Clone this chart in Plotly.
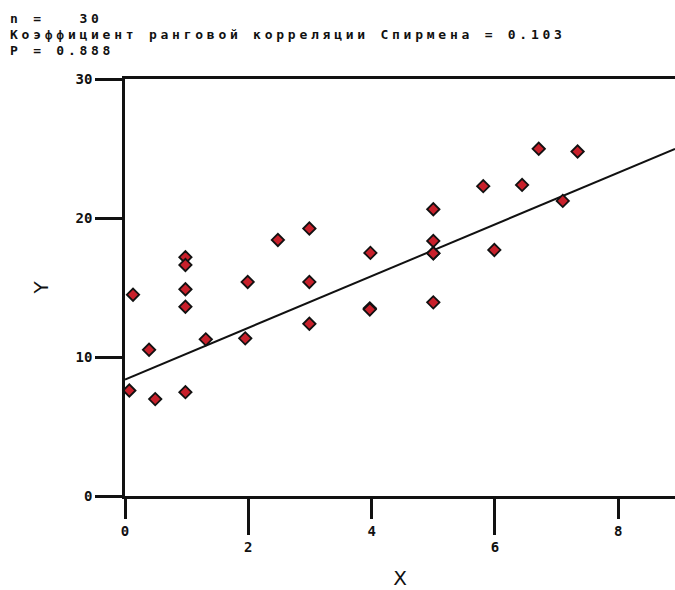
import numpy as np
import plotly.graph_objects as go

# Observations
x_vals = [0.07, 0.13, 0.39, 0.49, 0.98, 0.98, 0.98, 0.98, 0.98, 1.31,
          1.95, 1.99, 2.48, 2.99, 2.99, 2.99, 3.98, 3.97, 3.97, 5.0,
          5.0, 5.0, 5.0, 5.0, 5.81, 5.99, 6.44, 6.71, 7.10, 7.34]
y_vals = [7.59, 14.48, 10.52, 6.97, 17.18, 16.62, 14.87, 13.62, 7.47, 11.27,
          11.34, 15.40, 18.42, 19.24, 15.40, 12.39, 17.49, 13.50, 13.42, 20.63,
          18.35, 17.46, 17.46, 13.93, 22.29, 17.70, 22.38, 24.98, 21.23, 24.78]

# Fitted line
intercept = 8.38
slope = 1.86

# Header statistics
n_obs = 30
spearman_r = 0.103
p_value = 0.888

# Axis setup
x_range = [0, 8.92]
y_range = [0, 30]
x_ticks_short = [0, 4, 8]
x_ticks_long = [2, 6]
y_ticks = [0, 10, 20, 30]

mono = "DejaVu Sans Mono"
ink = "#111111"

line_x = np.array(x_range)
line_y = intercept + slope * line_x

fig = go.Figure()

fig.add_trace(go.Scatter(
    x=line_x, y=line_y, mode="lines",
    line=dict(color="#111111", width=2),
    hoverinfo="skip", showlegend=False,
))

fig.add_trace(go.Scatter(
    x=x_vals, y=y_vals, mode="markers",
    marker=dict(symbol="diamond", size=9.5, color="#c8202b",
                line=dict(color="#111111", width=1.8)),
    showlegend=False, cliponaxis=False,
))

# Second x axis carries the longer, lower ticks
fig.add_trace(go.Scatter(x=[None], y=[None], xaxis="x2", showlegend=False))

tick_font = dict(family=mono, size=14, color=ink, weight="bold")

fig.update_layout(
    width=675, height=590,
    margin=dict(l=125, r=0, t=79, b=94),
    paper_bgcolor="white", plot_bgcolor="white",
    xaxis=dict(
        range=x_range, tickvals=x_ticks_short, ticktext=[str(v) for v in x_ticks_short],
        ticks="outside", ticklen=20, tickwidth=2.5, tickcolor=ink,
        showline=True, linewidth=2.5, linecolor=ink, mirror=True,
        showgrid=False, zeroline=False, tickfont=tick_font,
        title=dict(text="X", font=dict(family="DejaVu Sans", size=20, color=ink), standoff=38),
    ),
    xaxis2=dict(
        range=x_range, overlaying="x", side="bottom", anchor="y",
        tickvals=x_ticks_long, ticktext=[str(v) for v in x_ticks_long],
        ticks="outside", ticklen=38, tickwidth=2.5, tickcolor=ink,
        showline=False, showgrid=False, zeroline=False, tickfont=tick_font,
    ),
    yaxis=dict(
        range=y_range, tickvals=y_ticks, ticktext=[str(v) for v in y_ticks],
        ticks="outside", ticklen=27, tickwidth=2.5, tickcolor=ink,
        showline=True, linewidth=2.5, linecolor=ink, mirror=False,
        showgrid=False, zeroline=False, tickfont=tick_font,
        title=dict(text="Y", font=dict(family="DejaVu Sans", size=20, color=ink), standoff=22),
    ),
)

header = [
    f"n =   {n_obs}",
    f"Коэффициент ранговой корреляции Спирмена = {spearman_r:.3f}",
    f"P = {p_value:.3f}",
]
header_rows_px = [18, 34, 50]
plot_top, plot_h, plot_left, plot_w = 79, 590 - 79 - 94, 125, 550
for text, row in zip(header, header_rows_px):
    fig.add_annotation(
        text=f'<span style="letter-spacing:3.75px">{text}</span>',
        xref="paper", yref="paper",
        x=(8 - plot_left) / plot_w, y=(plot_top + plot_h - row) / plot_h,
        xanchor="left", yanchor="middle", showarrow=False,
        font=dict(family=mono, size=13, color=ink, weight="bold"),
    )

fig.write_html("out.html")
